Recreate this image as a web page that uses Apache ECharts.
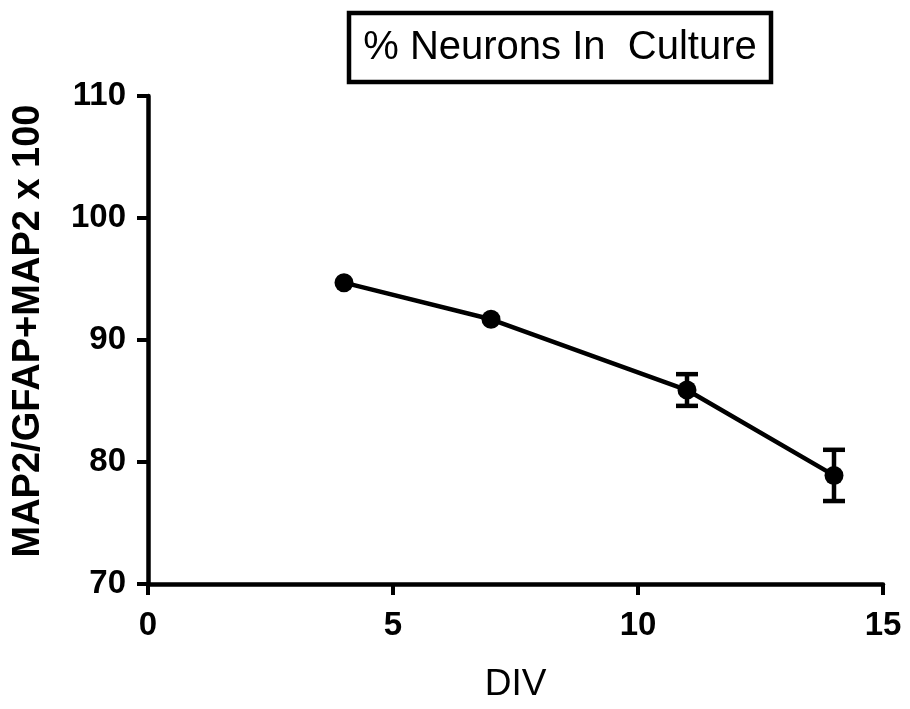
<!DOCTYPE html>
<html>
<head>
<meta charset="utf-8">
<script src="https://cdn.jsdelivr.net/npm/echarts@6/dist/echarts.min.js"></script>
<style>html,body{margin:0;padding:0;background:#fff}#c{width:910px;height:709px}</style>
</head>
<body>
<div id="c"></div>
<script>
const divDays = [4, 7, 11, 14];
const meanPct = [94.7, 91.7, 85.9, 78.9];
const semPct = [0, 0, 1.3, 2.1];
const xTicks = [0, 5, 10, 15];
const yTicks = [70, 80, 90, 100, 110];
const titleText = '% Neurons In  Culture';
const xName = 'DIV';
const yName = 'MAP2/GFAP+MAP2 x 100';

const FONT = '"Liberation Sans", Arial, sans-serif';
const chart = echarts.init(document.getElementById('c'));
const points = divDays.map((d, i) => [d, meanPct[i]]);
const errData = divDays.map((d, i) => [d, meanPct[i] - semPct[i], meanPct[i] + semPct[i]]);

chart.setOption({
  animation: false,
  backgroundColor: '#fff',
  graphic: [
    { type: 'rect', shape: { x: 349, y: 13, width: 422, height: 69 },
      style: { fill: '#fff', stroke: '#000', lineWidth: 4.5 } },
    { type: 'text', x: 560, y: 48,
      style: { text: titleText, font: '40px ' + FONT, fill: '#000', textAlign: 'center', textVerticalAlign: 'middle' } },
    { type: 'text', x: 29, y: 331, rotation: Math.PI / 2,
      style: { text: yName, font: 'bold 38px ' + FONT, fill: '#000', textAlign: 'center', textVerticalAlign: 'middle' } }
  ],
  grid: { left: 148, top: 96, right: 27, bottom: 125 },
  xAxis: {
    type: 'value', min: xTicks[0], max: xTicks[xTicks.length - 1], interval: 5,
    name: xName, nameLocation: 'middle', nameGap: 82,
    nameTextStyle: { fontFamily: FONT, fontSize: 37, color: '#000' },
    axisLine: { lineStyle: { color: '#000', width: 4.5 } },
    axisTick: { show: true, inside: false, length: 11, lineStyle: { color: '#000', width: 4 } },
    axisLabel: { fontFamily: FONT, fontSize: 33, fontWeight: 'bold', color: '#000', margin: 25 },
    splitLine: { show: false }
  },
  yAxis: {
    type: 'value', min: yTicks[0], max: yTicks[yTicks.length - 1], interval: 10,
    axisLine: { show: true, lineStyle: { color: '#000', width: 4.5 } },
    axisTick: { show: true, inside: false, length: 11, lineStyle: { color: '#000', width: 4 } },
    axisLabel: { fontFamily: FONT, fontSize: 33, fontWeight: 'bold', color: '#000', margin: 22 },
    splitLine: { show: false }
  },
  series: [
    {
      type: 'custom',
      data: errData,
      z: 3,
      renderItem: function (params, api) {
        const x = api.value(0);
        const lo = api.coord([x, api.value(1)]);
        const hi = api.coord([x, api.value(2)]);
        if (Math.abs(hi[1] - lo[1]) < 1) return null;
        const hw = 11;
        const st = { stroke: '#000', lineWidth: 4.5 };
        return {
          type: 'group',
          children: [
            { type: 'line', shape: { x1: lo[0], y1: lo[1], x2: hi[0], y2: hi[1] }, style: st },
            { type: 'line', shape: { x1: lo[0] - hw, y1: lo[1], x2: lo[0] + hw, y2: lo[1] }, style: st },
            { type: 'line', shape: { x1: hi[0] - hw, y1: hi[1], x2: hi[0] + hw, y2: hi[1] }, style: st }
          ]
        };
      }
    },
    {
      type: 'line',
      data: points,
      symbol: 'circle',
      symbolSize: 19,
      z: 4,
      lineStyle: { color: '#000', width: 4.5 },
      itemStyle: { color: '#000' }
    }
  ]
});
</script>
</body>
</html>
